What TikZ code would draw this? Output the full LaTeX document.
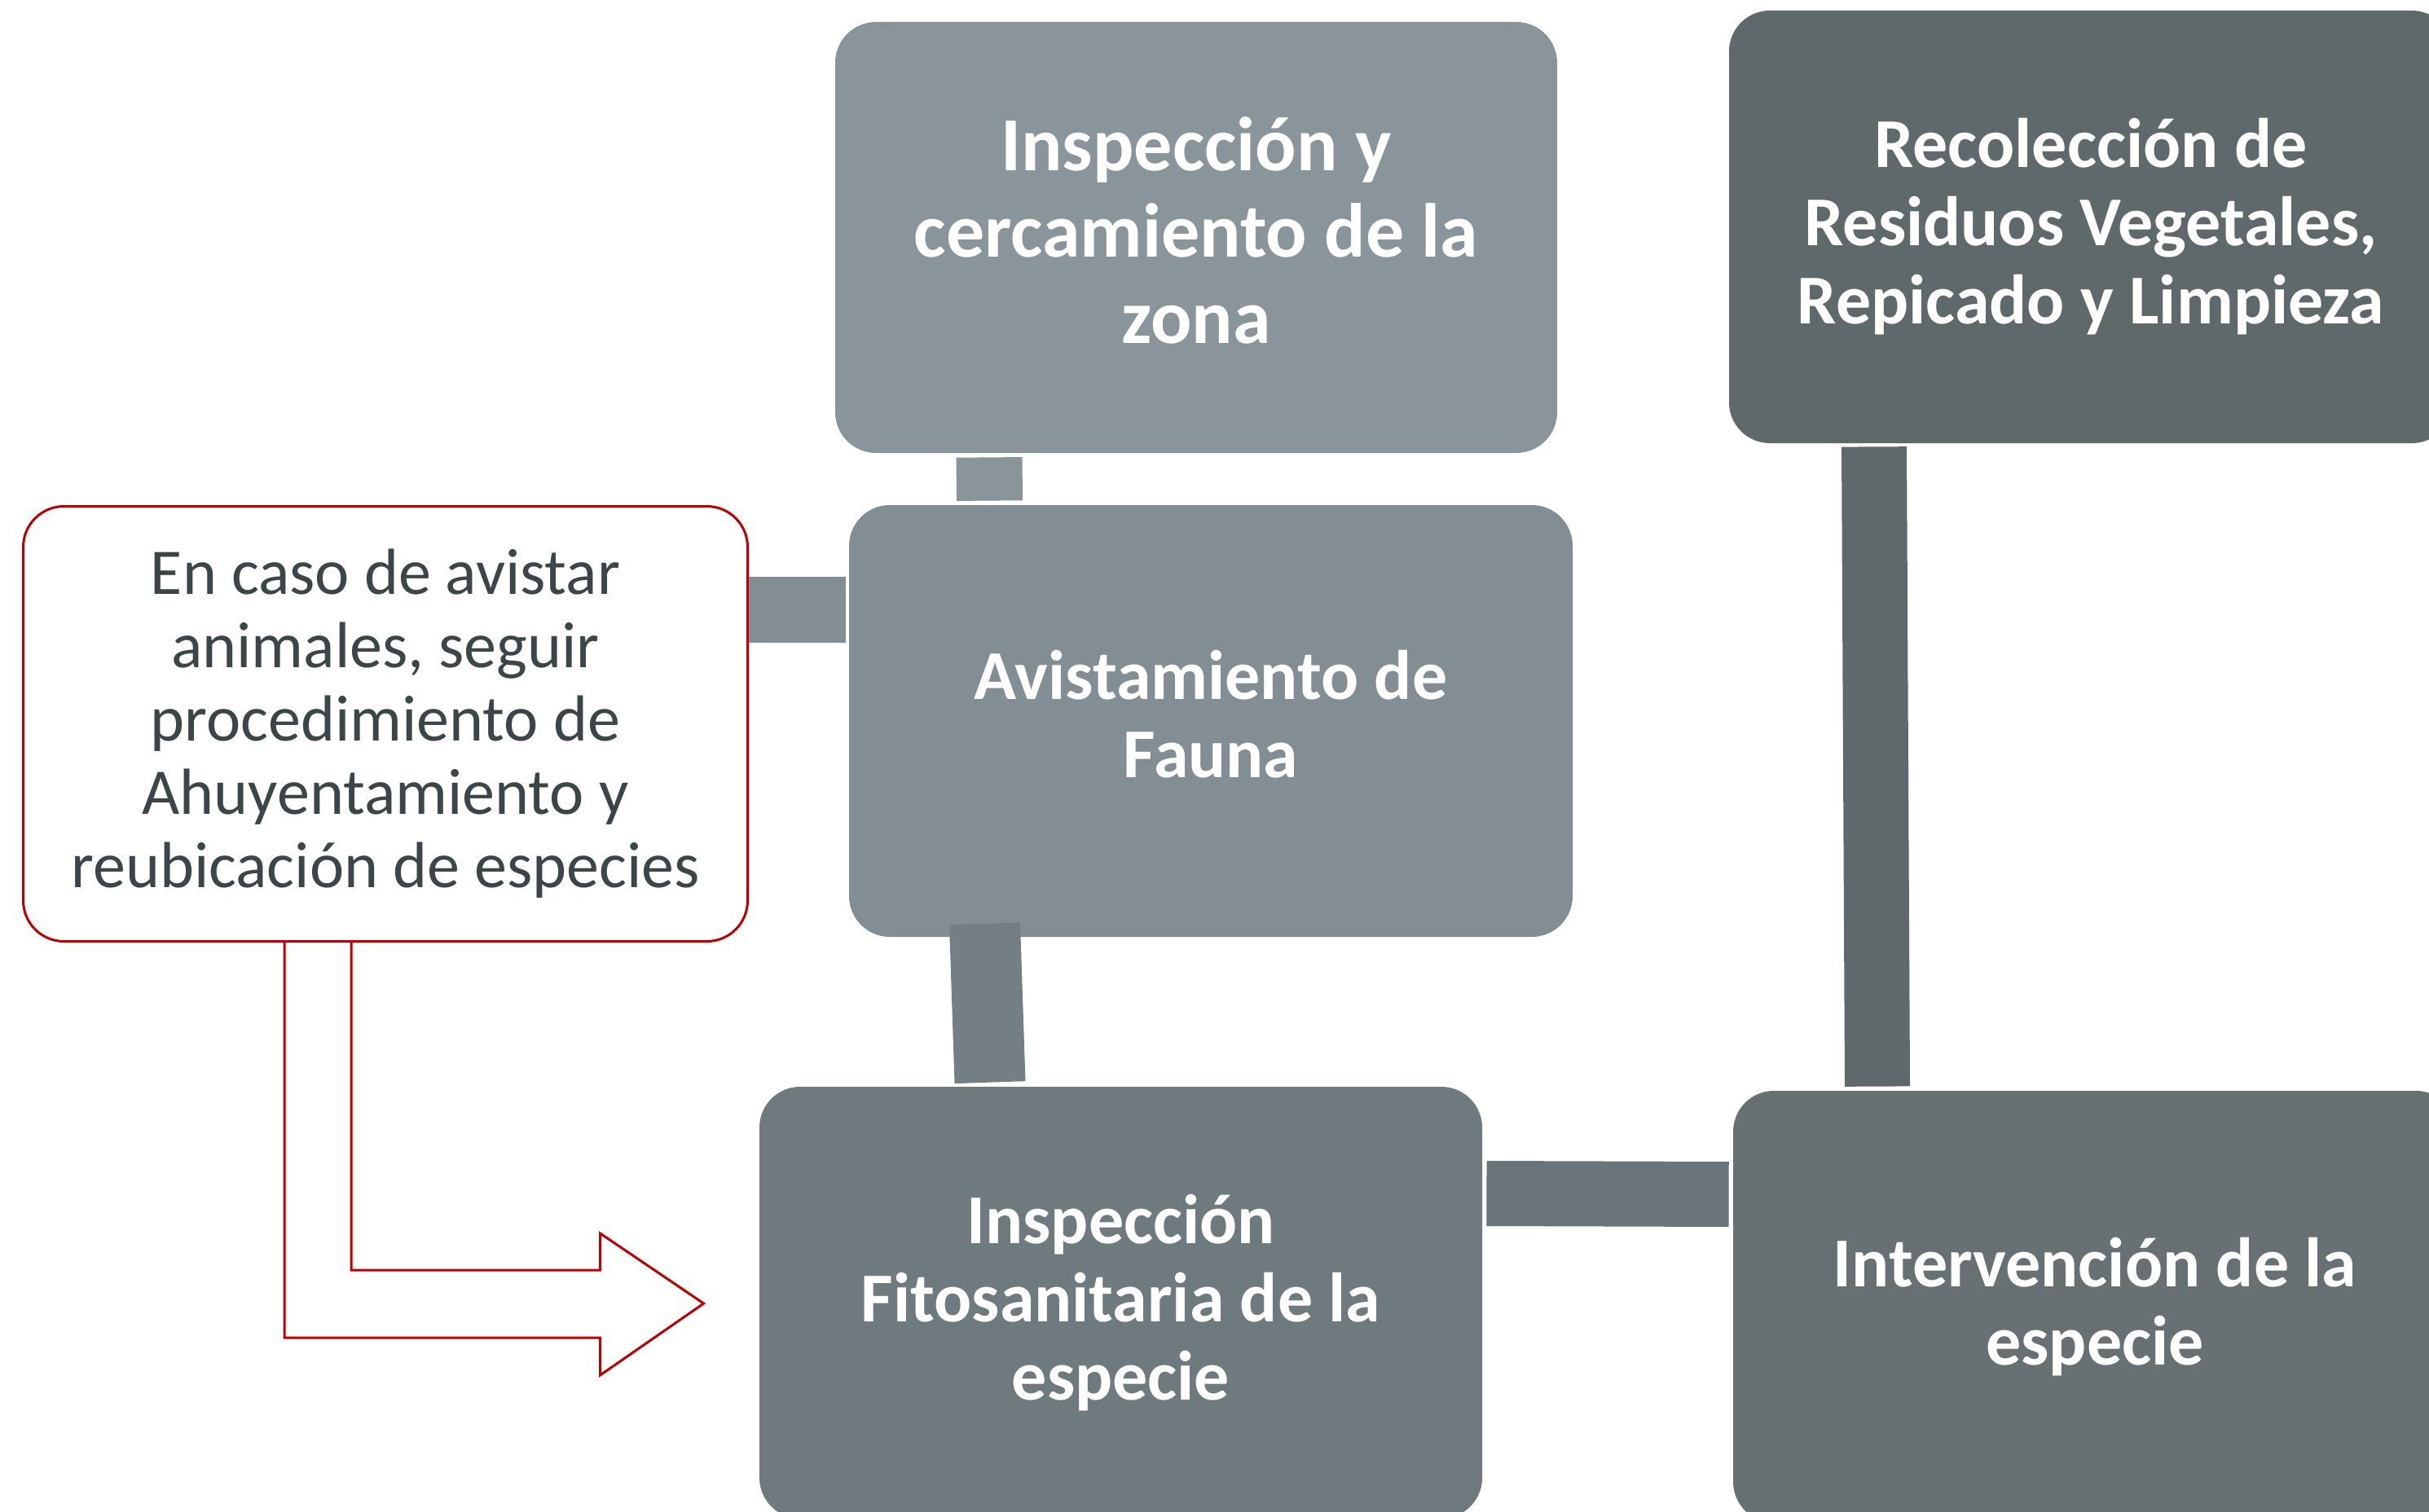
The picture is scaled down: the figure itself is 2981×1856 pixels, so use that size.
\documentclass[tikz,border=0pt]{standalone}
\usepackage{fontspec}
\setmainfont{Carlito}
\usetikzlibrary{calc}
\definecolor{cBone}{HTML}{8A959B}
\definecolor{cBtwo}{HTML}{5F686B}
\definecolor{cBthree}{HTML}{838E94}
\definecolor{cBfive}{HTML}{6F7A7F}
\definecolor{cBsix}{HTML}{687073}
\definecolor{cCone}{HTML}{8A9599}
\definecolor{cCthree}{HTML}{737F84}
\definecolor{cCfour}{HTML}{69757A}
\definecolor{cRed}{HTML}{C00000}
\definecolor{cTxt}{HTML}{3C4649}
\begin{document}
\begin{tikzpicture}[x=0.5pt,y=-0.5pt,
  box/.style={rounded corners=25pt, inner sep=0pt, align=center, text=white,
    font=\bfseries\fontsize{43}{48}\selectfont, minimum width=444pt, minimum height=265pt},
  bar/.style={line cap=butt, line width=40pt},
  redline/.style={draw=cRed, line width=1.5pt, line join=miter}]
\useasboundingbox (0,0) rectangle (2981,1856);
\clip (0,0) rectangle (2981,1856);
% boxes
\node[box, fill=cBone, minimum width=443pt, minimum height=264.5pt, text depth=9.4pt,
  font=\bfseries\fontsize{47}{53}\selectfont] (b1) at (1468,291.5)
  {Inspección y\\cercamiento de la\\zona};
\node[box, fill=cBtwo, minimum height=265.5pt] (b2) at (2566,278.5)
  {Recolección de\\Residuos Vegetales,\\Repicado y Limpieza};
\node[box, fill=cBthree, text depth=8.6pt] (b3) at (1486,885) {Avistamiento de\\Fauna};
\node[box, draw=cRed, line width=1.5pt, fill=white, text=cTxt,
  font=\fontsize{40}{45}\selectfont, minimum width=444.5pt, minimum height=267pt] (b4) at (473,888.5)
  {En caso de avistar\\animales, seguir\\procedimiento de\\Ahuyentamiento y\\reubicación de especies};
\node[box, fill=cBfive, minimum width=443.5pt] (b5) at (1375.5,1599)
  {Inspección\\Fitosanitaria de la\\especie};
\node[box, fill=cBsix] (b6) at (2571,1604) {Intervención de la\\especie};
% connectors
\draw[bar, cCone, line width=40.5pt, shorten <=2.5pt, shorten >=2.5pt]
  ($(b1.south)+(-254,0)$) -- ($(b3.north)+(-271.5,0)$);
\draw[bar, cBthree, line width=40.5pt, shorten >=2pt]
  ($(b4.east)+(0,-140)$) -- ($(b3.west)+(0,-136.5)$);
\draw[bar, cCthree, line width=43.5pt]
  ($(b3.south)+(-277.5,-16.5)$) -- ($(b5.north)+(-160.5,-5)$);
\draw[bar, cCfour]
  ($(b5.east)+(5,-134)$) -- ($(b6.west)+(-5,-138)$);
\draw[bar, cBtwo]
  ($(b2.south)+(-266,4)$) -- ($(b6.north)+(-267,-5)$);
% red bent arrow
\coordinate (tip) at ($(b5.west)+(-68,1)$);
\draw[redline, fill=white]
  ($(b4.south)+(-124,0)$) |- ($(tip)+(-127,42)$) -- ($(tip)+(-127,88)$) -- (tip)
  -- ($(tip)+(-127,-86)$) -- ($(tip)+(-127,-41)$) -| ($(b4.south)+(-42,0)$);
\end{tikzpicture}
\end{document}
